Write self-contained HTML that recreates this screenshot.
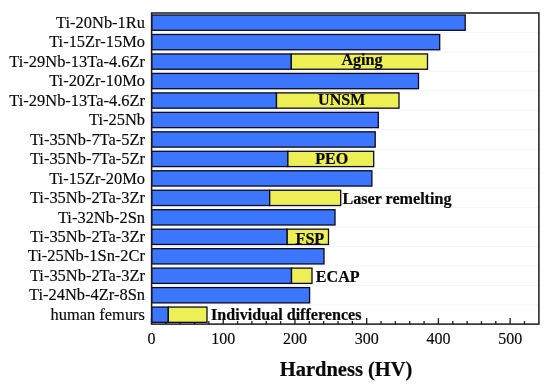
<!DOCTYPE html>
<html><head><meta charset="utf-8"><style>
html,body{margin:0;padding:0;background:#fff;width:550px;height:386px;overflow:hidden;}
svg{display:block;font-family:"Liberation Serif", serif;will-change:transform;}
</style></head><body>
<svg width="550" height="386" viewBox="0 0 550 386">
<rect x="0" y="0" width="550" height="386" fill="#fff"/>
<line x1="151.6" x2="538.9" y1="32.38" y2="32.38" stroke="#f4f4f4" stroke-width="1"/>
<line x1="151.6" x2="538.9" y1="51.85" y2="51.85" stroke="#f4f4f4" stroke-width="1"/>
<line x1="151.6" x2="538.9" y1="71.33" y2="71.33" stroke="#f4f4f4" stroke-width="1"/>
<line x1="151.6" x2="538.9" y1="90.80" y2="90.80" stroke="#f4f4f4" stroke-width="1"/>
<line x1="151.6" x2="538.9" y1="110.27" y2="110.27" stroke="#f4f4f4" stroke-width="1"/>
<line x1="151.6" x2="538.9" y1="129.73" y2="129.73" stroke="#f4f4f4" stroke-width="1"/>
<line x1="151.6" x2="538.9" y1="149.20" y2="149.20" stroke="#f4f4f4" stroke-width="1"/>
<line x1="151.6" x2="538.9" y1="168.67" y2="168.67" stroke="#f4f4f4" stroke-width="1"/>
<line x1="151.6" x2="538.9" y1="188.14" y2="188.14" stroke="#f4f4f4" stroke-width="1"/>
<line x1="151.6" x2="538.9" y1="207.61" y2="207.61" stroke="#f4f4f4" stroke-width="1"/>
<line x1="151.6" x2="538.9" y1="227.08" y2="227.08" stroke="#f4f4f4" stroke-width="1"/>
<line x1="151.6" x2="538.9" y1="246.55" y2="246.55" stroke="#f4f4f4" stroke-width="1"/>
<line x1="151.6" x2="538.9" y1="266.03" y2="266.03" stroke="#f4f4f4" stroke-width="1"/>
<line x1="151.6" x2="538.9" y1="285.50" y2="285.50" stroke="#f4f4f4" stroke-width="1"/>
<line x1="151.6" x2="538.9" y1="304.96" y2="304.96" stroke="#f4f4f4" stroke-width="1"/>
<line x1="151.50" x2="151.50" y1="324.10" y2="318.10" stroke="#1a1a1a" stroke-width="1.3"/>
<line x1="165.85" x2="165.85" y1="324.10" y2="321.10" stroke="#1a1a1a" stroke-width="1.3"/>
<line x1="180.19" x2="180.19" y1="324.10" y2="321.10" stroke="#1a1a1a" stroke-width="1.3"/>
<line x1="194.54" x2="194.54" y1="324.10" y2="321.10" stroke="#1a1a1a" stroke-width="1.3"/>
<line x1="208.88" x2="208.88" y1="324.10" y2="321.10" stroke="#1a1a1a" stroke-width="1.3"/>
<line x1="223.23" x2="223.23" y1="324.10" y2="318.10" stroke="#1a1a1a" stroke-width="1.3"/>
<line x1="237.58" x2="237.58" y1="324.10" y2="321.10" stroke="#1a1a1a" stroke-width="1.3"/>
<line x1="251.92" x2="251.92" y1="324.10" y2="321.10" stroke="#1a1a1a" stroke-width="1.3"/>
<line x1="266.27" x2="266.27" y1="324.10" y2="321.10" stroke="#1a1a1a" stroke-width="1.3"/>
<line x1="280.61" x2="280.61" y1="324.10" y2="321.10" stroke="#1a1a1a" stroke-width="1.3"/>
<line x1="294.96" x2="294.96" y1="324.10" y2="318.10" stroke="#1a1a1a" stroke-width="1.3"/>
<line x1="309.31" x2="309.31" y1="324.10" y2="321.10" stroke="#1a1a1a" stroke-width="1.3"/>
<line x1="323.65" x2="323.65" y1="324.10" y2="321.10" stroke="#1a1a1a" stroke-width="1.3"/>
<line x1="338.00" x2="338.00" y1="324.10" y2="321.10" stroke="#1a1a1a" stroke-width="1.3"/>
<line x1="352.34" x2="352.34" y1="324.10" y2="321.10" stroke="#1a1a1a" stroke-width="1.3"/>
<line x1="366.69" x2="366.69" y1="324.10" y2="318.10" stroke="#1a1a1a" stroke-width="1.3"/>
<line x1="381.04" x2="381.04" y1="324.10" y2="321.10" stroke="#1a1a1a" stroke-width="1.3"/>
<line x1="395.38" x2="395.38" y1="324.10" y2="321.10" stroke="#1a1a1a" stroke-width="1.3"/>
<line x1="409.73" x2="409.73" y1="324.10" y2="321.10" stroke="#1a1a1a" stroke-width="1.3"/>
<line x1="424.07" x2="424.07" y1="324.10" y2="321.10" stroke="#1a1a1a" stroke-width="1.3"/>
<line x1="438.42" x2="438.42" y1="324.10" y2="318.10" stroke="#1a1a1a" stroke-width="1.3"/>
<line x1="452.77" x2="452.77" y1="324.10" y2="321.10" stroke="#1a1a1a" stroke-width="1.3"/>
<line x1="467.11" x2="467.11" y1="324.10" y2="321.10" stroke="#1a1a1a" stroke-width="1.3"/>
<line x1="481.46" x2="481.46" y1="324.10" y2="321.10" stroke="#1a1a1a" stroke-width="1.3"/>
<line x1="495.80" x2="495.80" y1="324.10" y2="321.10" stroke="#1a1a1a" stroke-width="1.3"/>
<line x1="510.15" x2="510.15" y1="324.10" y2="318.10" stroke="#1a1a1a" stroke-width="1.3"/>
<line x1="524.50" x2="524.50" y1="324.10" y2="321.10" stroke="#1a1a1a" stroke-width="1.3"/>
<rect x="151.7" y="15.00" width="313.50" height="15.3" fill="#3c76fc" stroke="#0a0a1e" stroke-width="1.3"/>
<rect x="151.7" y="34.47" width="288.00" height="15.3" fill="#3c76fc" stroke="#0a0a1e" stroke-width="1.3"/>
<rect x="151.7" y="53.94" width="139.60" height="15.3" fill="#3c76fc" stroke="#0a0a1e" stroke-width="1.3"/>
<rect x="291.3" y="53.94" width="136.20" height="15.3" fill="#eeee55" stroke="#0a0a1e" stroke-width="1.3"/>
<rect x="151.7" y="73.41" width="266.80" height="15.3" fill="#3c76fc" stroke="#0a0a1e" stroke-width="1.3"/>
<rect x="151.7" y="92.88" width="124.80" height="15.3" fill="#3c76fc" stroke="#0a0a1e" stroke-width="1.3"/>
<rect x="276.5" y="92.88" width="122.50" height="15.3" fill="#eeee55" stroke="#0a0a1e" stroke-width="1.3"/>
<rect x="151.7" y="112.35" width="226.60" height="15.3" fill="#3c76fc" stroke="#0a0a1e" stroke-width="1.3"/>
<rect x="151.7" y="131.82" width="223.50" height="15.3" fill="#3c76fc" stroke="#0a0a1e" stroke-width="1.3"/>
<rect x="151.7" y="151.29" width="136.20" height="15.3" fill="#3c76fc" stroke="#0a0a1e" stroke-width="1.3"/>
<rect x="287.9" y="151.29" width="85.80" height="15.3" fill="#eeee55" stroke="#0a0a1e" stroke-width="1.3"/>
<rect x="151.7" y="170.76" width="220.20" height="15.3" fill="#3c76fc" stroke="#0a0a1e" stroke-width="1.3"/>
<rect x="151.7" y="190.23" width="118.00" height="15.3" fill="#3c76fc" stroke="#0a0a1e" stroke-width="1.3"/>
<rect x="269.7" y="190.23" width="71.00" height="15.3" fill="#eeee55" stroke="#0a0a1e" stroke-width="1.3"/>
<rect x="151.7" y="209.70" width="183.30" height="15.3" fill="#3c76fc" stroke="#0a0a1e" stroke-width="1.3"/>
<rect x="151.7" y="229.17" width="135.50" height="15.3" fill="#3c76fc" stroke="#0a0a1e" stroke-width="1.3"/>
<rect x="287.2" y="229.17" width="41.30" height="15.3" fill="#eeee55" stroke="#0a0a1e" stroke-width="1.3"/>
<rect x="151.7" y="248.64" width="172.30" height="15.3" fill="#3c76fc" stroke="#0a0a1e" stroke-width="1.3"/>
<rect x="151.7" y="268.11" width="139.80" height="15.3" fill="#3c76fc" stroke="#0a0a1e" stroke-width="1.3"/>
<rect x="291.5" y="268.11" width="20.50" height="15.3" fill="#eeee55" stroke="#0a0a1e" stroke-width="1.3"/>
<rect x="151.7" y="287.58" width="157.90" height="15.3" fill="#3c76fc" stroke="#0a0a1e" stroke-width="1.3"/>
<rect x="151.7" y="307.05" width="16.60" height="15.3" fill="#3c76fc" stroke="#0a0a1e" stroke-width="1.3"/>
<rect x="168.3" y="307.05" width="38.70" height="15.3" fill="#eeee55" stroke="#0a0a1e" stroke-width="1.3"/>
<rect x="151.6" y="13.0" width="387.30" height="311.10" fill="none" stroke="#1a1a1a" stroke-width="1.5"/>
<text x="145.0" y="27.80" text-anchor="end" font-size="16.45" fill="#080808" stroke="#080808" stroke-width="0.15">Ti-20Nb-1Ru</text>
<text x="145.0" y="47.27" text-anchor="end" font-size="16.45" fill="#080808" stroke="#080808" stroke-width="0.15">Ti-15Zr-15Mo</text>
<text x="145.0" y="66.74" text-anchor="end" font-size="16.45" fill="#080808" stroke="#080808" stroke-width="0.15">Ti-29Nb-13Ta-4.6Zr</text>
<text x="145.0" y="86.21" text-anchor="end" font-size="16.45" fill="#080808" stroke="#080808" stroke-width="0.15">Ti-20Zr-10Mo</text>
<text x="145.0" y="105.68" text-anchor="end" font-size="16.45" fill="#080808" stroke="#080808" stroke-width="0.15">Ti-29Nb-13Ta-4.6Zr</text>
<text x="145.0" y="125.15" text-anchor="end" font-size="16.45" fill="#080808" stroke="#080808" stroke-width="0.15">Ti-25Nb</text>
<text x="145.0" y="144.62" text-anchor="end" font-size="16.45" fill="#080808" stroke="#080808" stroke-width="0.15">Ti-35Nb-7Ta-5Zr</text>
<text x="145.0" y="164.09" text-anchor="end" font-size="16.45" fill="#080808" stroke="#080808" stroke-width="0.15">Ti-35Nb-7Ta-5Zr</text>
<text x="145.0" y="183.56" text-anchor="end" font-size="16.45" fill="#080808" stroke="#080808" stroke-width="0.15">Ti-15Zr-20Mo</text>
<text x="145.0" y="203.03" text-anchor="end" font-size="16.45" fill="#080808" stroke="#080808" stroke-width="0.15">Ti-35Nb-2Ta-3Zr</text>
<text x="145.0" y="222.50" text-anchor="end" font-size="16.45" fill="#080808" stroke="#080808" stroke-width="0.15">Ti-32Nb-2Sn</text>
<text x="145.0" y="241.97" text-anchor="end" font-size="16.45" fill="#080808" stroke="#080808" stroke-width="0.15">Ti-35Nb-2Ta-3Zr</text>
<text x="145.0" y="261.44" text-anchor="end" font-size="16.45" fill="#080808" stroke="#080808" stroke-width="0.15">Ti-25Nb-1Sn-2Cr</text>
<text x="145.0" y="280.91" text-anchor="end" font-size="16.45" fill="#080808" stroke="#080808" stroke-width="0.15">Ti-35Nb-2Ta-3Zr</text>
<text x="145.0" y="300.38" text-anchor="end" font-size="16.45" fill="#080808" stroke="#080808" stroke-width="0.15">Ti-24Nb-4Zr-8Sn</text>
<text x="145.0" y="319.85" text-anchor="end" font-size="16.45" fill="#080808" stroke="#080808" stroke-width="0.15">human femurs</text>
<text x="362.0" y="65.0" text-anchor="middle" font-weight="bold" font-size="16.1" fill="#080808" stroke="#080808" stroke-width="0.2">Aging</text>
<text x="341.8" y="105.0" text-anchor="middle" font-weight="bold" font-size="16.1" fill="#080808" stroke="#080808" stroke-width="0.2">UNSM</text>
<text x="331.8" y="163.9" text-anchor="middle" font-weight="bold" font-size="16.1" fill="#080808" stroke="#080808" stroke-width="0.2">PEO</text>
<text x="397.0" y="204.4" text-anchor="middle" font-weight="bold" font-size="16.1" fill="#080808" stroke="#080808" stroke-width="0.2">Laser remelting</text>
<text x="309.9" y="243.6" text-anchor="middle" font-weight="bold" font-size="16.1" fill="#080808" stroke="#080808" stroke-width="0.2">FSP</text>
<text x="337.7" y="282.2" text-anchor="middle" font-weight="bold" font-size="16.1" fill="#080808" stroke="#080808" stroke-width="0.2">ECAP</text>
<text x="286.3" y="319.7" text-anchor="middle" font-weight="bold" font-size="16.1" fill="#080808" stroke="#080808" stroke-width="0.2">Individual differences</text>
<text x="151.50" y="344.4" text-anchor="middle" font-size="16" fill="#080808" stroke="#080808" stroke-width="0.15">0</text>
<text x="223.23" y="344.4" text-anchor="middle" font-size="16" fill="#080808" stroke="#080808" stroke-width="0.15">100</text>
<text x="294.96" y="344.4" text-anchor="middle" font-size="16" fill="#080808" stroke="#080808" stroke-width="0.15">200</text>
<text x="366.69" y="344.4" text-anchor="middle" font-size="16" fill="#080808" stroke="#080808" stroke-width="0.15">300</text>
<text x="438.42" y="344.4" text-anchor="middle" font-size="16" fill="#080808" stroke="#080808" stroke-width="0.15">400</text>
<text x="510.15" y="344.4" text-anchor="middle" font-size="16" fill="#080808" stroke="#080808" stroke-width="0.15">500</text>
<text x="346.1" y="375.6" text-anchor="middle" font-weight="bold" font-size="20.5" fill="#080808" stroke="#080808" stroke-width="0.2">Hardness (HV)</text>
</svg>
</body></html>
